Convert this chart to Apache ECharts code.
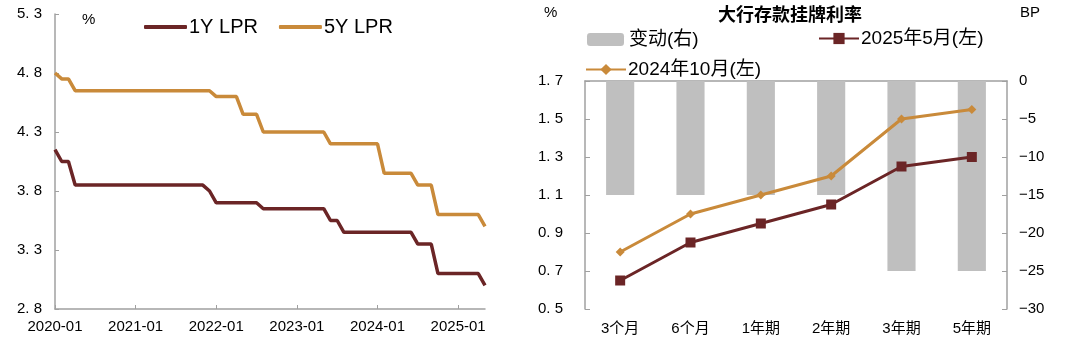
<!DOCTYPE html>
<html>
<head>
<meta charset="utf-8">
<script src="https://cdn.jsdelivr.net/npm/echarts@6/dist/echarts.min.js"></script>
<style>html,body{margin:0;padding:0;background:#fff}#c{width:1080px;height:344px}</style>
</head>
<body>
<div id="c"></div>
<script>
// ---- Left panel data: monthly LPR (%) 2020-01 .. 2025-05
const months = [];
for (let y = 2020; y <= 2025; y++) {
  for (let m = 1; m <= 12; m++) {
    if (y === 2025 && m > 5) break;
    months.push(y + '-' + (m < 10 ? '0' + m : m));
  }
}
const lpr1Y = [
  4.15,4.05,4.05,3.85,3.85,3.85,3.85,3.85,3.85,3.85,3.85,3.85, // 2020
  3.85,3.85,3.85,3.85,3.85,3.85,3.85,3.85,3.85,3.85,3.85,3.80, // 2021
  3.70,3.70,3.70,3.70,3.70,3.70,3.70,3.65,3.65,3.65,3.65,3.65, // 2022
  3.65,3.65,3.65,3.65,3.65,3.55,3.55,3.45,3.45,3.45,3.45,3.45, // 2023
  3.45,3.45,3.45,3.45,3.45,3.45,3.35,3.35,3.35,3.10,3.10,3.10, // 2024
  3.10,3.10,3.10,3.10,3.00                                     // 2025
];
const lpr5Y = [
  4.80,4.75,4.75,4.65,4.65,4.65,4.65,4.65,4.65,4.65,4.65,4.65, // 2020
  4.65,4.65,4.65,4.65,4.65,4.65,4.65,4.65,4.65,4.65,4.65,4.65, // 2021
  4.60,4.60,4.60,4.60,4.45,4.45,4.45,4.30,4.30,4.30,4.30,4.30, // 2022
  4.30,4.30,4.30,4.30,4.30,4.20,4.20,4.20,4.20,4.20,4.20,4.20, // 2023
  4.20,3.95,3.95,3.95,3.95,3.95,3.85,3.85,3.85,3.60,3.60,3.60, // 2024
  3.60,3.60,3.60,3.60,3.50                                     // 2025
];

// ---- Right panel data: big-bank deposit listed rates
const terms = ['3个月','6个月','1年期','2年期','3年期','5年期'];
const rateMay2025 = [0.65, 0.85, 0.95, 1.05, 1.25, 1.30];
const rateOct2024 = [0.80, 1.00, 1.10, 1.20, 1.50, 1.55];
const changeBP = [-15, -15, -15, -15, -25, -25];

const MAROON = '#6B2526';
const GOLD = '#C98A3A';
const GRAY_BAR = '#BFBFBF';
const AXIS = '#A0A0A0';
const FONT = "'Liberation Sans', 'Noto Sans CJK SC', sans-serif";

const fmt1 = v => v.toFixed(1).replace('.', '. ');
const plainTitle = (text, left, top, size, weight, align) => ({
  text, left, top, padding: 0, textAlign: align || 'left',
  textStyle: {fontSize: size, fontWeight: weight || 'normal', color: '#000', fontFamily: FONT}
});

const chart = echarts.init(document.getElementById('c'), null, {renderer: 'canvas'});
chart.setOption({
  animation: false,
  textStyle: {fontFamily: FONT, color: '#000'},
  title: [
    plainTitle('%', 82, 12, 15),
    plainTitle('大行存款挂牌利率', 790, 7, 18, 'bold', 'center'),
    plainTitle('%', 544, 5, 15),
    plainTitle('BP', 1020, 5, 15)
  ],
  legend: [
    {data: [{name: '1Y LPR', icon: 'roundRect'}, {name: '5Y LPR', icon: 'roundRect'}],
     left: 144, top: 17, padding: 0, itemWidth: 43, itemHeight: 4, itemGap: 21,
     textStyle: {fontSize: 20, color: '#000', fontFamily: FONT, padding: [0,0,0,-3]}},
    {data: ['变动(右)'], left: 587, top: 30, padding: 0, itemWidth: 37, itemHeight: 13,
     textStyle: {fontSize: 19, color: '#000', fontFamily: FONT}},
    {data: ['2025年5月(左)'], left: 818, top: 29, padding: 0, itemWidth: 40, itemHeight: 14,
     textStyle: {fontSize: 19, color: '#000', fontFamily: FONT, padding: [0,0,0,-3]}},
    {data: ['2024年10月(左)'], left: 585, top: 60, padding: 0, itemWidth: 40, itemHeight: 14,
     textStyle: {fontSize: 19, color: '#000', fontFamily: FONT, padding: [0,0,0,-3]}}
  ],
  grid: [
    {left: 55, right: 595, top: 14, bottom: 35},
    {left: 585, right: 73, top: 81, bottom: 35}
  ],
  xAxis: [
    {type: 'category', gridIndex: 0, data: months, boundaryGap: false,
     axisLine: {lineStyle: {color: AXIS, width: 1.5}},
     axisTick: {inside: true, length: 4, interval: 11, lineStyle: {color: AXIS}},
     axisLabel: {interval: 11, fontSize: 15, color: '#000', margin: 10, fontFamily: FONT},
     splitLine: {show: false}},
    {type: 'category', gridIndex: 1, data: terms,
     axisLine: {lineStyle: {color: AXIS, width: 1.5}},
     axisTick: {inside: true, length: 5, lineStyle: {color: AXIS}},
     axisLabel: {fontSize: 15, color: '#000', margin: 12, fontFamily: FONT},
     splitLine: {show: false}}
  ],
  yAxis: [
    {type: 'value', gridIndex: 0, min: 2.8, max: 5.3, interval: 0.5,
     axisLine: {show: true, lineStyle: {color: AXIS, width: 1.5}},
     axisTick: {show: true, inside: true, length: 4, lineStyle: {color: AXIS}},
     axisLabel: {fontSize: 15, color: '#000', margin: 13, formatter: fmt1, fontFamily: FONT},
     splitLine: {show: false}},
    {type: 'value', gridIndex: 1, min: 0.5, max: 1.7, interval: 0.2,
     axisLine: {show: true, lineStyle: {color: AXIS, width: 1.5}},
     axisTick: {show: true, inside: true, length: 5, lineStyle: {color: AXIS}},
     axisLabel: {fontSize: 15, color: '#000', margin: 22, formatter: fmt1, fontFamily: FONT},
     splitLine: {show: false}},
    {type: 'value', gridIndex: 1, position: 'right', min: -30, max: 0, interval: 5,
     axisLine: {show: true, lineStyle: {color: AXIS, width: 1.5}},
     axisTick: {show: true, inside: true, length: 5, lineStyle: {color: AXIS}},
     axisLabel: {fontSize: 15, color: '#000', margin: 12, fontFamily: FONT,
       formatter: v => (v < 0 ? '\u2212' + Math.abs(v) : String(v))},
     splitLine: {show: false}}
  ],
  series: [
    {name: '1Y LPR', type: 'line', xAxisIndex: 0, yAxisIndex: 0, data: lpr1Y,
     showSymbol: false, symbol: 'none', lineStyle: {color: MAROON, width: 3.5}, itemStyle: {color: MAROON}},
    {name: '5Y LPR', type: 'line', xAxisIndex: 0, yAxisIndex: 0, data: lpr5Y,
     showSymbol: false, symbol: 'none', lineStyle: {color: GOLD, width: 3.5}, itemStyle: {color: GOLD}},
    {name: '变动(右)', type: 'bar', xAxisIndex: 1, yAxisIndex: 2, data: changeBP,
     barWidth: '40%', itemStyle: {color: GRAY_BAR}},
    {name: '2025年5月(左)', type: 'line', xAxisIndex: 1, yAxisIndex: 1, data: rateMay2025,
     symbol: 'rect', symbolSize: 10, lineStyle: {color: MAROON, width: 3}, itemStyle: {color: MAROON}, z: 4},
    {name: '2024年10月(左)', type: 'line', xAxisIndex: 1, yAxisIndex: 1, data: rateOct2024,
     symbol: 'diamond', symbolSize: 9, lineStyle: {color: GOLD, width: 3}, itemStyle: {color: GOLD}, z: 3}
  ]
});
</script>
</body>
</html>
